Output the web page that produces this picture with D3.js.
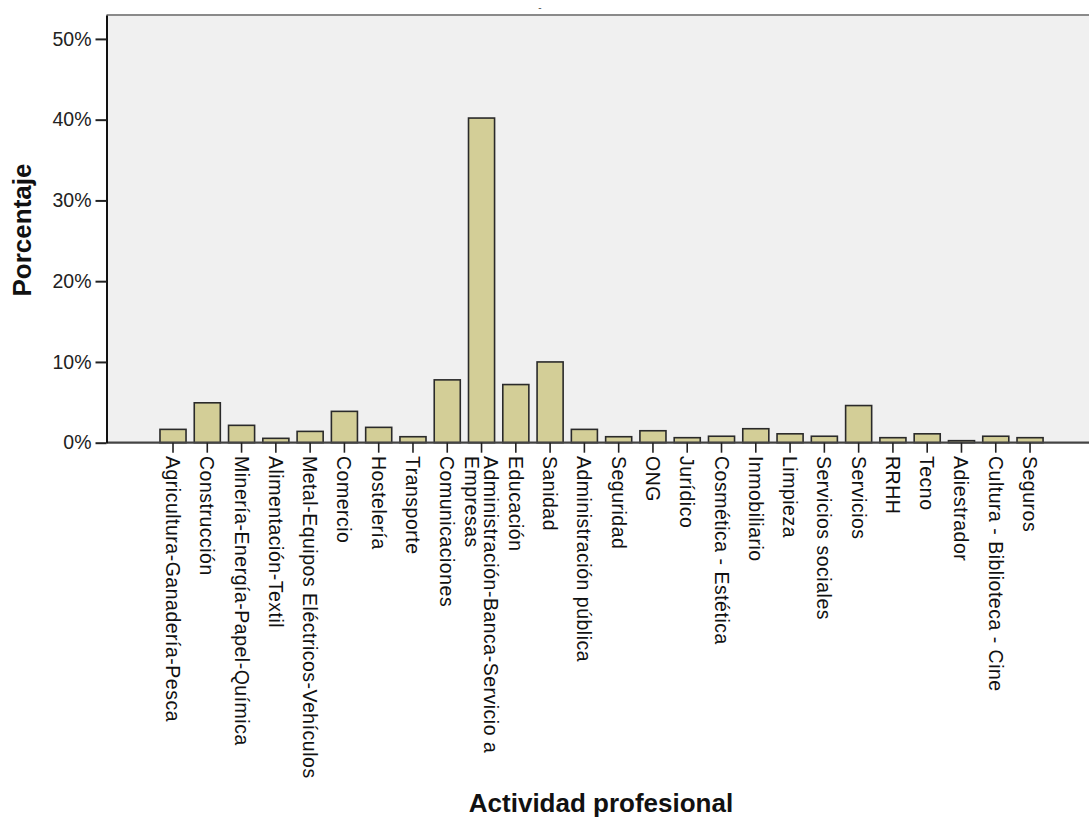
<!DOCTYPE html>
<html>
<head>
<meta charset="utf-8">
<script src="https://cdn.jsdelivr.net/npm/d3@7"></script>
<style>
  body { margin: 0; background: #fff; }
  text { font-family: "Liberation Sans", Arial, sans-serif; }
</style>
</head>
<body>
<div id="chart"></div>
<script>
// Actividad profesional, porcentaje de casos
const categories = [
    'Agricultura-Ganadería-Pesca', 'Construcción', 'Minería-Energía-Papel-Química',
    'Alimentación-Textil', 'Metal-Equipos Eléctricos-Vehículos', 'Comercio',
    'Hostelería', 'Transporte', 'Comunicaciones',
    'Administración-Banca-Servicio a Empresas', 'Educación', 'Sanidad',
    'Administración pública', 'Seguridad', 'ONG', 'Jurídico', 'Cosmética - Estética',
    'Inmobiliario', 'Limpieza', 'Servicios sociales', 'Servicios', 'RRHH', 'Tecno',
    'Adiestrador', 'Cultura - Biblioteca - Cine', 'Seguros'
];
const percentages = [
    1.65, 4.94, 2.15, 0.54, 1.4, 3.88, 1.9, 0.74, 7.78, 40.2, 7.2, 10.0,
    1.65, 0.74, 1.48, 0.62, 0.8, 1.73, 1.1, 0.8, 4.6, 0.62, 1.1, 0.25, 0.8, 0.62
];
const yTicks = [0, 10, 20, 30, 40, 50];

const width = 1089;
const height = 820;
const plot = { left: 106.5, right: 1089, top: 15, bottom: 442.7 };

const svg = d3.select('#chart')
    .append('svg')
    .attr('width', width)
    .attr('height', height);

const x = d3.scaleBand()
    .domain(categories)
    .range([151.75, 1051.3])
    .padding(0.24);

const y = d3.scaleLinear()
    .domain([0, 52.96])
    .range([plot.bottom, plot.top]);

// plot background + top border
svg.append('rect')
    .attr('x', plot.left)
    .attr('y', plot.top)
    .attr('width', plot.right - plot.left)
    .attr('height', plot.bottom - plot.top)
    .attr('fill', '#f0f0f0');

svg.append('line')
    .attr('x1', plot.left).attr('x2', plot.right)
    .attr('y1', plot.top).attr('y2', plot.top)
    .attr('stroke', '#8a8a8a')
    .attr('stroke-width', 2);

// small dash where the empty title would be
svg.append('text')
    .attr('x', 540)
    .attr('y', 11)
    .attr('text-anchor', 'middle')
    .attr('font-size', 10)
    .attr('fill', '#555')
    .text('-');

// bars
svg.selectAll('rect.bar')
    .data(categories)
    .enter().append('rect')
    .attr('class', 'bar')
    .attr('x', (d) => x(d))
    .attr('width', x.bandwidth())
    .attr('y', (d, i) => y(percentages[i]))
    .attr('height', (d, i) => y(0) - y(percentages[i]))
    .attr('fill', '#d3ce97')
    .attr('stroke', '#2a2a2a')
    .attr('stroke-width', 1.6);

// baseline
svg.append('line')
    .attr('x1', plot.left).attr('x2', plot.right)
    .attr('y1', plot.bottom).attr('y2', plot.bottom)
    .attr('stroke', '#444')
    .attr('stroke-width', 2.2);

// y axis
const yAxis = svg.append('g')
    .attr('transform', `translate(${plot.left},0)`)
    .call(d3.axisLeft(y)
        .tickValues(yTicks)
        .tickSize(11)
        .tickSizeOuter(0)
        .tickPadding(4)
        .tickFormat((d) => d + '%'));

yAxis.select('.domain')
    .attr('stroke', '#111')
    .attr('stroke-width', 2);
yAxis.selectAll('.tick line')
    .attr('stroke', '#222')
    .attr('stroke-width', 2);
yAxis.selectAll('.tick text')
    .attr('font-family', '"Liberation Sans", Arial, sans-serif')
    .attr('font-size', 19.5)
    .attr('fill', '#222');

// x axis ticks, labels drawn rotated below
const xAxis = svg.append('g')
    .attr('transform', `translate(0,${plot.bottom})`)
    .call(d3.axisBottom(x).tickSize(10).tickFormat(''));

xAxis.select('.domain').remove();
xAxis.selectAll('.tick line')
    .attr('stroke', '#222')
    .attr('stroke-width', 1.6);

const labelSize = 19.5;
const lineHeight = 19;
const maxLabel = 345;

const labels = svg.append('g');

categories.forEach((name) => {
    const cx = x(name) + x.bandwidth() / 2;
    const t = labels.append('text')
        .attr('transform', `translate(${cx},456) rotate(90)`)
        .attr('font-size', labelSize)
        .attr('letter-spacing', 0.5)
        .attr('fill', '#111');

    // wrap long names on words
    const words = name.split(' ');
    const lines = [];
    let current = [];
    const probe = t.append('tspan');
    words.forEach((w) => {
        const test = current.concat([w]).join(' ');
        probe.text(test);
        if (probe.node().getComputedTextLength() > maxLabel && current.length) {
            lines.push(current.join(' '));
            current = [w];
        } else {
            current.push(w);
        }
    });
    lines.push(current.join(' '));
    probe.remove();

    const shift = (lines.length - 1) * lineHeight / 2;
    lines.forEach((line, k) => {
        t.append('tspan')
            .attr('x', 0)
            .attr('y', 7 - shift + k * lineHeight)
            .text(line);
    });
});

// axis titles
svg.append('text')
    .attr('transform', 'translate(31,230) rotate(-90)')
    .attr('text-anchor', 'middle')
    .attr('font-size', 26)
    .attr('font-weight', 'bold')
    .attr('fill', '#111')
    .text('Porcentaje');

svg.append('text')
    .attr('x', 601)
    .attr('y', 812)
    .attr('text-anchor', 'middle')
    .attr('font-size', 26)
    .attr('font-weight', 'bold')
    .attr('fill', '#111')
    .text('Actividad profesional');
</script>
</body>
</html>
